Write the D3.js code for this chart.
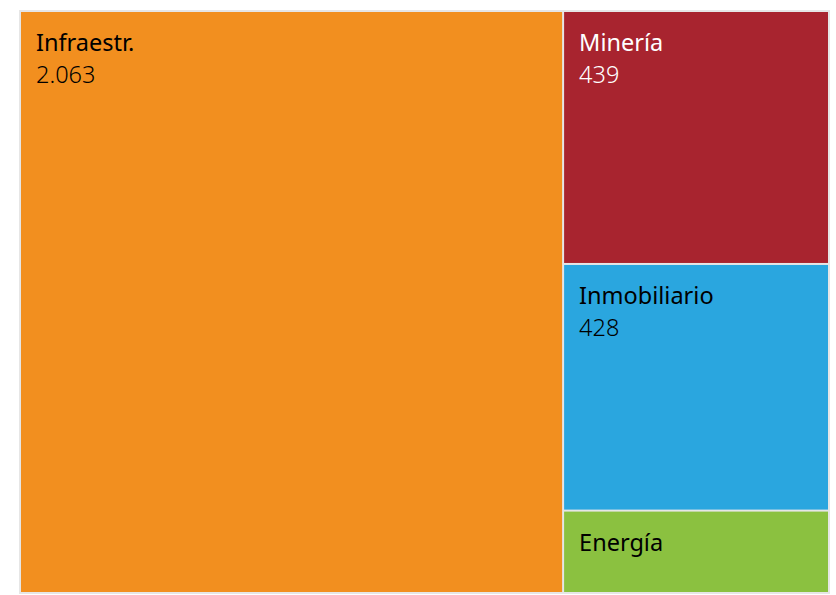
<!DOCTYPE html>
<html>
<head>
<meta charset="utf-8">
<script src="https://cdn.jsdelivr.net/npm/d3@7"></script>
<style>
  body { margin: 0; background: #ffffff; }
</style>
</head>
<body>
<svg id="mysvg" width="836" height="595"></svg>
<script>

// data
var sectors = ["Infraestr.", "Minería", "Inmobiliario", "Energía"];
var amounts = [2063, 439, 428, 143];
var labels  = ["2.063", "439", "428", ""];
var colors  = ["#f28f1f", "#a8242f", "#2aa6df", "#8bc140"];
var textColors = ["#000000", "#ffffff", "#000000", "#000000"];

var svg = d3.select("#mysvg");

var x0 = 19, y0 = 10, w = 811, h = 584;

// outer frame
svg.append("rect")
	.attr("x", x0)
	.attr("y", y0)
	.attr("width", w)
	.attr("height", h)
	.attr("fill", "#e6e6e6");

var root = d3.hierarchy({
		children: sectors.map(function (s, i) { return { name: s, value: amounts[i], idx: i }; })
	})
	.sum(function (d) { return d.value || 0; })
	.sort(function (a, b) { return b.value - a.value; });

d3.treemap()
	.tile(d3.treemapSquarify)
	.size([w, h])
	.paddingOuter(2)
	.paddingInner(2)(root);

var cell = svg.append("g")
	.attr("transform", "translate(" + x0 + "," + y0 + ")")
	.selectAll("g")
	.data(root.leaves())
	.enter().append("g")
	.attr("transform", function (d) { return "translate(" + d.x0 + "," + d.y0 + ")"; });

cell.append("rect")
	.attr("width", function (d) { return d.x1 - d.x0; })
	.attr("height", function (d) { return d.y1 - d.y0; })
	.attr("fill", function (d) { return colors[d.data.idx]; });

cell.append("text")
	.attr("x", 15)
	.attr("y", 39)
	.attr("font-family", "'Noto Sans', sans-serif")
	.attr("font-size", 23.5)
	.attr("fill", function (d) { return textColors[d.data.idx]; })
	.text(function (d) { return d.data.name; });

cell.append("text")
	.attr("x", 15)
	.attr("y", 71)
	.attr("font-family", "'Noto Sans', sans-serif")
	.attr("font-weight", 300)
	.attr("font-size", 23.5)
	.attr("fill", function (d) { return textColors[d.data.idx]; })
	.text(function (d) { return labels[d.data.idx]; });

</script>
</body>
</html>
